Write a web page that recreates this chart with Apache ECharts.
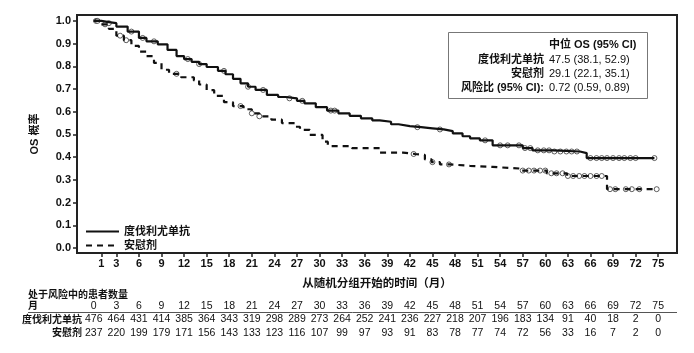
<!DOCTYPE html>
<html>
<head>
<meta charset="utf-8">
<script src="https://cdn.jsdelivr.net/npm/echarts@6/dist/echarts.min.js"></script>
<style>
  html, body { margin: 0; padding: 0; background: #fff; }
  #main { width: 694px; height: 353px; }
</style>
</head>
<body>
<div id="main"></div>
<script>
// KM curves (month, survival)
var durvaTimes = [0, 1, 2, 3, 4.5, 6, 7, 8.5, 9.8, 11, 12, 13, 14, 15, 16.5, 17.5, 18.5, 19.5, 20.5, 21.5, 23, 24.5, 25.5, 27, 28, 29.5, 31, 32.5, 34, 35.5, 37, 38, 39.5, 40.5, 42, 43.5, 45, 46.5, 47.7, 49, 50, 51.3, 53, 57, 58.3, 61, 64.6, 65.5, 74.5];
var durvaSurv = [1.0, 0.995, 0.99, 0.975, 0.953, 0.925, 0.91, 0.897, 0.872, 0.845, 0.832, 0.82, 0.81, 0.797, 0.78, 0.765, 0.745, 0.725, 0.71, 0.696, 0.674, 0.665, 0.659, 0.648, 0.637, 0.62, 0.605, 0.593, 0.582, 0.571, 0.562, 0.556, 0.545, 0.537, 0.532, 0.527, 0.522, 0.515, 0.505, 0.492, 0.483, 0.474, 0.452, 0.44, 0.43, 0.425, 0.418, 0.396, 0.396];
var placeboTimes = [0, 1, 2, 3, 4, 5, 6, 7, 8, 9, 10, 11.6, 13.3, 14, 15, 16, 17.3, 18.5, 19.9, 21, 22, 23.6, 25, 26.7, 27.4, 28.7, 30.4, 31.1, 34.3, 38, 41.1, 42.7, 44, 44.9, 46, 47.3, 50, 53, 56.6, 60.2, 62.9, 68.2, 74.8];
var placeboSurv = [1.0, 0.985, 0.965, 0.935, 0.915, 0.89, 0.865, 0.845, 0.815, 0.785, 0.767, 0.752, 0.738, 0.72, 0.695, 0.67, 0.642, 0.625, 0.611, 0.593, 0.58, 0.565, 0.55, 0.534, 0.52, 0.498, 0.468, 0.449, 0.44, 0.42, 0.414, 0.41, 0.39, 0.378, 0.368, 0.362, 0.357, 0.35, 0.341, 0.329, 0.317, 0.259, 0.259];
var durvaCensor = [0.3, 2, 5, 6.5, 8, 12.5, 14, 17.3, 20.5, 22.5, 26, 27.7, 31.5, 32, 43, 46, 52, 54, 55, 56.5, 57.3, 58, 59, 59.8, 60.5, 61.2, 62, 62.8, 63.5, 64.2, 66, 66.8, 67.5, 68.2, 69, 69.8, 70.5, 71.3, 72, 74.5];
var placeboCensor = [0.5, 1.5, 3.5, 4.3, 11, 19.5, 21, 22, 42.5, 45, 47.2, 57, 57.8, 58.5, 59.3, 60, 60.8, 61.5, 62.3, 63, 63.7, 64.5, 65.2, 66, 66.8, 67.5, 68.6, 69.3, 70.7, 71.5, 72.5, 74.8];

var riskMonths = [0, 3, 6, 9, 12, 15, 18, 21, 24, 27, 30, 33, 36, 39, 42, 45, 48, 51, 54, 57, 60, 63, 66, 69, 72, 75];
var durvaRisk = [476, 464, 431, 414, 385, 364, 343, 319, 298, 289, 273, 264, 252, 241, 236, 227, 218, 207, 196, 183, 134, 91, 40, 18, 2, 0];
var placeboRisk = [237, 220, 199, 179, 171, 156, 143, 133, 123, 116, 107, 99, 97, 93, 91, 83, 78, 77, 74, 72, 56, 33, 16, 7, 2, 0];

var xTicks = [1, 3, 6, 9, 12, 15, 18, 21, 24, 27, 30, 33, 36, 39, 42, 45, 48, 51, 54, 57, 60, 63, 66, 69, 72, 75];
var yTicks = [0, 0.1, 0.2, 0.3, 0.4, 0.5, 0.6, 0.7, 0.8, 0.9, 1.0];

var FONT = '"Liberation Sans", "Noto Sans CJK SC", sans-serif';

function zip(a, b) {
    return a.map(function (v, i) { return [v, b[i]]; });
}
// value of the step curve at time t
function survAt(times, surv, t) {
    var s = surv[0];
    for (var i = 0; i < times.length; i++) {
        if (times[i] <= t) s = surv[i];
    }
    return s;
}
function censorPts(ct, times, surv) {
    return ct.map(function (t) { return [t, survAt(times, surv, t)]; });
}

// at-risk table cells: [month, row, text]
var tableCells = [];
riskMonths.forEach(function (m, i) {
    tableCells.push([m, 0, String(m)]);
    tableCells.push([m, 1, String(durvaRisk[i])]);
    tableCells.push([m, 2, String(placeboRisk[i])]);
});

var myChart = echarts.init(document.getElementById('main'));

var option = {
    animation: false,
    backgroundColor: '#fff',
    textStyle: { fontFamily: FONT },
    grid: [
        { left: 77, right: 17, top: 15, bottom: 100, show: true, borderColor: '#222', borderWidth: 2 },
        { left: 77, right: 17, top: 298, height: 40 }
    ],
    xAxis: [{
        type: 'value', gridIndex: 0, min: -2.23, max: 77.5,
        name: '从随机分组开始的时间（月）', nameLocation: 'middle', nameGap: 25,
        nameTextStyle: { fontSize: 11.5, fontWeight: 'bold', color: '#111', fontFamily: FONT },
        axisLine: { show: true, onZero: false, lineStyle: { color: '#222', width: 2 } },
        axisTick: { show: true, length: 4, customValues: xTicks, lineStyle: { color: '#222', width: 1.5 } },
        axisLabel: { customValues: xTicks, margin: 5, fontSize: 11, fontWeight: 'bold', color: '#111' },
        splitLine: { show: false }
    }, {
        type: 'value', gridIndex: 1, min: -2.23, max: 77.5, show: false
    }],
    yAxis: [{
        type: 'value', gridIndex: 0, min: -0.022, max: 1.026,
        name: 'OS 概率', nameLocation: 'middle', nameGap: 37,
        nameTextStyle: { fontSize: 11, fontWeight: 'bold', color: '#111', fontFamily: FONT },
        axisLine: { show: true, onZero: false, lineStyle: { color: '#222', width: 2 } },
        axisTick: { show: true, length: 4, customValues: yTicks, lineStyle: { color: '#222', width: 1.5 } },
        axisLabel: {
            customValues: yTicks, margin: 6, fontSize: 11, fontWeight: 'bold', color: '#111',
            formatter: function (v) { return v.toFixed(1); }
        },
        splitLine: { show: false }
    }, {
        type: 'value', gridIndex: 1, min: -0.593, max: 2.37, inverse: true, show: false
    }],
    legend: {
        data: ['度伐利尤单抗', '安慰剂'],
        orient: 'vertical', left: 80, top: 221,
        itemWidth: 33, itemHeight: 10, itemGap: 3,
        itemStyle: { opacity: 0 },
        textStyle: { fontSize: 11, fontWeight: 'bold', color: '#111', fontFamily: FONT }
    },
    series: [{
        name: '度伐利尤单抗', type: 'line', step: 'end', symbol: 'none',
        xAxisIndex: 0, yAxisIndex: 0,
        lineStyle: { color: '#111', width: 2.2, type: 'solid' },
        itemStyle: { color: '#111' },
        data: zip(durvaTimes, durvaSurv)
    }, {
        name: '安慰剂', type: 'line', step: 'end', symbol: 'none',
        xAxisIndex: 0, yAxisIndex: 0,
        lineStyle: { color: '#111', width: 2.2, type: [6, 5] },
        itemStyle: { color: '#111' },
        data: zip(placeboTimes, placeboSurv)
    }, {
        name: 'censor1', type: 'scatter', symbol: 'circle', symbolSize: 5,
        xAxisIndex: 0, yAxisIndex: 0,
        itemStyle: { color: '#fff', borderColor: '#222', borderWidth: 0.9 },
        data: censorPts(durvaCensor, durvaTimes, durvaSurv)
    }, {
        name: 'censor2', type: 'scatter', symbol: 'circle', symbolSize: 5,
        xAxisIndex: 0, yAxisIndex: 0,
        itemStyle: { color: '#fff', borderColor: '#222', borderWidth: 0.9 },
        data: censorPts(placeboCensor, placeboTimes, placeboSurv)
    }, {
        name: 'table', type: 'custom', xAxisIndex: 1, yAxisIndex: 1,
        data: tableCells,
        renderItem: function (params, api) {
            var p = api.coord([api.value(0), api.value(1)]);
            return {
                type: 'text',
                style: {
                    x: p[0], y: p[1], text: tableCells[params.dataIndex][2],
                    align: 'center', verticalAlign: 'middle',
                    font: '10.5px ' + FONT, fill: '#111'
                }
            };
        }
    }],
    graphic: [
        { type: 'text', left: 28, top: 290, style: { text: '处于风险中的患者数量', font: 'bold 10px ' + FONT, fill: '#111' } },
        { type: 'text', x: 28, y: 306, style: { text: '月', font: 'bold 10px ' + FONT, fill: '#111', verticalAlign: 'middle' } },
        { type: 'line', shape: { x1: 28, y1: 312.5, x2: 677, y2: 312.5 }, style: { stroke: '#555', lineWidth: 1 } },
        { type: 'text', x: 82, y: 320, style: { text: '度伐利尤单抗', font: 'bold 10px ' + FONT, fill: '#111', align: 'right', verticalAlign: 'middle' } },
        { type: 'text', x: 82, y: 333, style: { text: '安慰剂', font: 'bold 10px ' + FONT, fill: '#111', align: 'right', verticalAlign: 'middle' } },
        { type: 'rect', shape: { x: 448.5, y: 32.5, width: 199, height: 66 }, style: { fill: '#fff', stroke: '#777', lineWidth: 1 }, z: 10 },
        { type: 'text', x: 549, y: 45, z: 11, style: { text: '中位 OS (95% CI)', font: 'bold 11px ' + FONT, fill: '#111', verticalAlign: 'middle' } },
        { type: 'text', x: 544, y: 59.5, z: 11, style: { text: '度伐利尤单抗', font: 'bold 11px ' + FONT, fill: '#111', align: 'right', verticalAlign: 'middle' } },
        { type: 'text', x: 549, y: 59.5, z: 11, style: { text: '47.5 (38.1, 52.9)', font: '11px ' + FONT, fill: '#111', verticalAlign: 'middle' } },
        { type: 'text', x: 544, y: 73.5, z: 11, style: { text: '安慰剂', font: 'bold 11px ' + FONT, fill: '#111', align: 'right', verticalAlign: 'middle' } },
        { type: 'text', x: 549, y: 73.5, z: 11, style: { text: '29.1 (22.1, 35.1)', font: '11px ' + FONT, fill: '#111', verticalAlign: 'middle' } },
        { type: 'text', x: 544, y: 87.5, z: 11, style: { text: '风险比 (95% CI):', font: 'bold 11px ' + FONT, fill: '#111', align: 'right', verticalAlign: 'middle' } },
        { type: 'text', x: 549, y: 87.5, z: 11, style: { text: '0.72 (0.59, 0.89)', font: '11px ' + FONT, fill: '#111', verticalAlign: 'middle' } }
    ]
};

myChart.setOption(option);
</script>
</body>
</html>
